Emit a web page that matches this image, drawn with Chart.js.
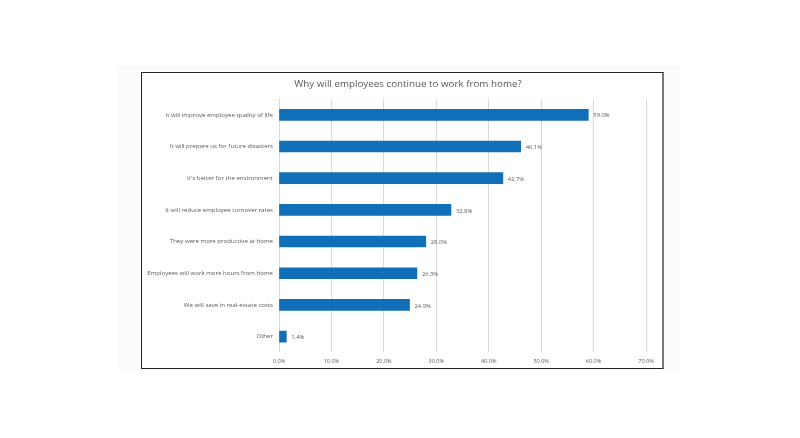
<!DOCTYPE html>
<html>
<head>
<meta charset="utf-8">
<script src="https://cdn.jsdelivr.net/npm/chart.js@4"></script>
<style>
  body { margin: 0; background: #fff; width: 800px; height: 438px; position: relative; overflow: hidden; }
  .panel { position: absolute; left: 118px; top: 65px; width: 562px; height: 306px; background: #fbfbfb; }
  .box { position: absolute; left: 141px; top: 72px; width: 520px; height: 295px; background: #fff;
         border: 1.5px solid #222; border-right: 2px solid #777; }
  #chart { position: absolute; left: 142px; top: 73px; display: block; }
</style>
</head>
<body>
<div class="panel"></div>
<div class="box"></div>
<canvas id="chart" width="520" height="298"></canvas>
<script>
// данные опроса
const categories = [
  "It will improve employee quality of life",
  "It will prepare us for future disasters",
  "It's better for the environment",
  "It will reduce employee turnover rates",
  "They were more productive at home",
  "Employees will work more hours from home",
  "We will save in real-estate costs",
  "Other"
];
const percentValues = [59.0, 46.1, 42.7, 32.8, 28.0, 26.3, 24.9, 1.4];
const xTicks = [0, 10, 20, 30, 40, 50, 60, 70];
const chartTitle = "Why will employees continue to work from home?";

const textColor = "#595959";
const fontFamily = "'Open Sans', sans-serif";

// заголовок рисуем сами, чуть правее центра как в оригинале
const titlePlugin = {
  id: "ownTitle",
  afterDraw(chart) {
    const { ctx } = chart;
    ctx.save();
    ctx.font = "9.8px " + fontFamily;
    ctx.fillStyle = textColor;
    ctx.textAlign = "center";
    ctx.textBaseline = "middle";
    ctx.fillText(chartTitle, 266, 11.5);
    ctx.restore();
  }
};

// подписи значений справа от столбиков
const valueLabels = {
  id: "valueLabels",
  afterDatasetsDraw(chart) {
    const { ctx } = chart;
    const meta = chart.getDatasetMeta(0);
    ctx.save();
    ctx.font = "5.8px " + fontFamily;
    ctx.fillStyle = textColor;
    ctx.textAlign = "left";
    ctx.textBaseline = "middle";
    meta.data.forEach((bar, i) => {
      ctx.fillText(percentValues[i].toFixed(1) + "%", bar.x + 5, bar.y + 1);
    });
    ctx.restore();
  }
};

const ctx = document.getElementById("chart");
new Chart(ctx, {
  type: "bar",
  data: {
    labels: categories,
    datasets: [{
      data: percentValues,
      backgroundColor: "#106fb6",
      barThickness: 11
    }]
  },
  options: {
    indexAxis: "y",
    responsive: false,
    animation: false,
    layout: { padding: { left: 0, right: 16, top: 26, bottom: 0 } },
    plugins: {
      legend: { display: false },
      tooltip: { enabled: false },
      title: { display: false }
    },
    scales: {
      x: {
        min: 0,
        max: 70,
        afterBuildTicks(scale) {
          scale.ticks = xTicks.map(v => ({ value: v }));
        },
        grid: { color: "#d9d9d9", lineWidth: 1, drawTicks: false },
        border: { display: false },
        ticks: {
          color: textColor,
          font: { family: fontFamily, size: 5.5 },
          padding: 6,
          callback: v => v.toFixed(1) + "%"
        }
      },
      y: {
        grid: { display: false, drawTicks: false },
        border: { display: false },
        afterFit(scale) { scale.width = 137; },
        ticks: {
          color: textColor,
          font: { family: fontFamily, size: 6.1 },
          padding: 6
        }
      }
    }
  },
  plugins: [valueLabels, titlePlugin]
});
</script>
</body>
</html>
